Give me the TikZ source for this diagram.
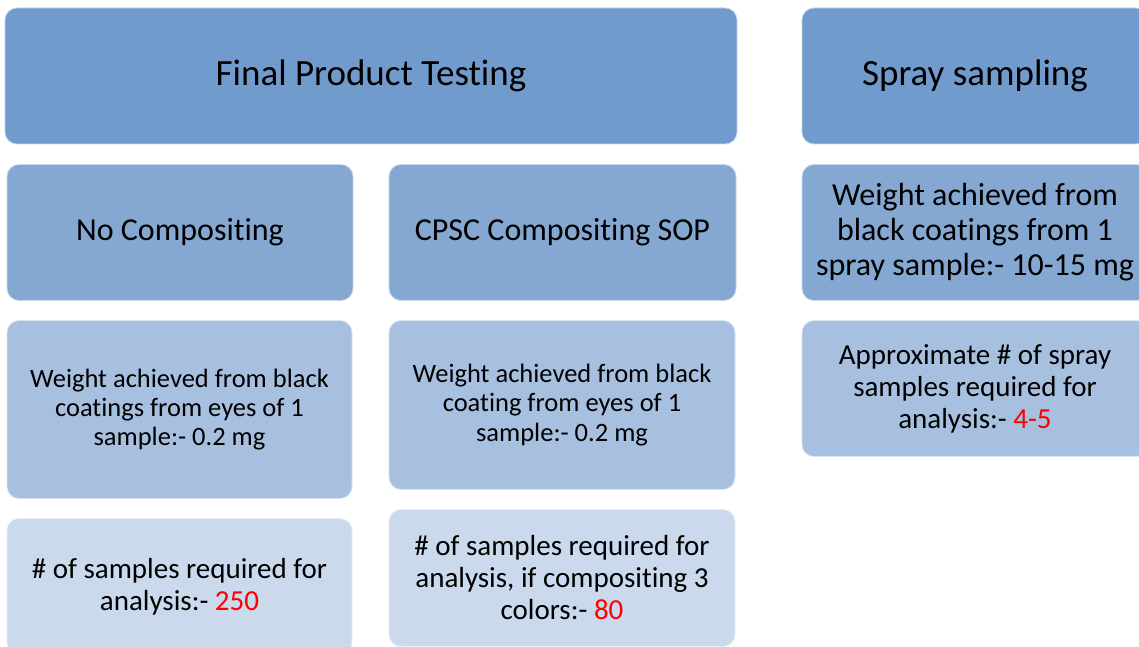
\documentclass[tikz,border=0pt]{standalone}
\usepackage{fontspec}
\setmainfont[RawFeature={-liga;-clig;-dlig;-calt}]{Carlito}
\definecolor{cA}{HTML}{729BCD}
\definecolor{cB}{HTML}{84A8D2}
\definecolor{cC}{HTML}{A8C0DF}
\definecolor{cD}{HTML}{CAD9EC}
\definecolor{cRed}{HTML}{FF0000}
\tikzset{
  box/.style={rectangle, rounded corners=12pt, inner sep=0pt, align=center, text=black, draw=white!55!#1, line width=0.8pt, fill=#1},
  fTop/.style={font=\fontsize{37}{41}\selectfont},
  fMid/.style={font=\fontsize{32}{35}\selectfont},
  fSmall/.style={font=\fontsize{26.5}{29.2}\selectfont},
  fLow/.style={font=\fontsize{29}{32}\selectfont},
}
\begin{document}
\begin{tikzpicture}[x=1pt,y=-1pt]
\useasboundingbox (0,0) rectangle (1139,647);
\clip (0,0) rectangle (1139,647);
\node[box=cA, fTop, minimum width=732pt, minimum height=136pt] (top1) at (371,76) {Final Product Testing};
\node[box=cA, fTop, minimum width=346pt, minimum height=136pt] (top2) at (975,76) {Spray sampling};
\node[box=cB, fMid, minimum width=346pt, minimum height=136pt] (r2a) at (180,232.5) {No Compositing};
\node[box=cB, fMid, minimum width=347pt, minimum height=136pt] (r2b) at (562.5,232.5) {CPSC Compositing SOP};
\node[box=cB, fMid, minimum width=346pt, minimum height=136pt] (r2c) at (975,232.5) {Weight achieved from\\black coatings from 1\\spray sample:- 10-15 mg};
\node[box=cC, fSmall, minimum width=345pt, minimum height=178pt] (r3a) at (179.5,409.5) {Weight achieved from black\\coatings from eyes of 1\\sample:- 0.2 mg};
\node[box=cC, fSmall, minimum width=346pt, minimum height=169pt] (r3b) at (562,405) {Weight achieved from black\\coating from eyes of 1\\sample:- 0.2 mg};
\node[box=cC, fLow, minimum width=346pt, minimum height=136pt] (r3c) at (975,388.5) {Approximate \# of spray\\samples required for\\analysis:- \textcolor{cRed}{4-5}};
\node[box=cD, fLow, minimum width=345pt, minimum height=136pt] (r4a) at (179.5,586.5) {\# of samples required for\\analysis:- \textcolor{cRed}{250}};
\node[box=cD, fLow, minimum width=346pt, minimum height=137pt] (r4b) at (562,578) {\# of samples required for\\analysis, if compositing 3\\colors:- \textcolor{cRed}{80}};
\end{tikzpicture}
\end{document}
